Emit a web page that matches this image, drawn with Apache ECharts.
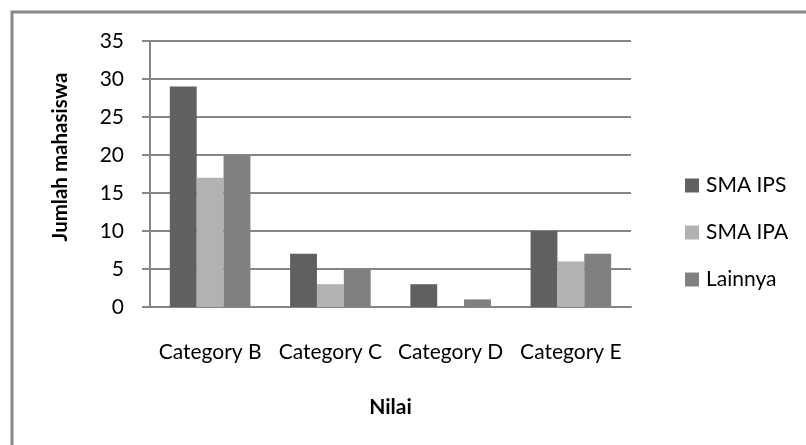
<!DOCTYPE html>
<html>
<head>
<meta charset="utf-8">
<script src="https://cdn.jsdelivr.net/npm/echarts@6/dist/echarts.min.js"></script>
<style>
  html, body { margin: 0; padding: 0; background: #ffffff; }
  #chart { width: 806px; height: 445px; }
</style>
</head>
<body>
<div id="chart"></div>
<script>
// Categories and series values
var categories = ['Category B', 'Category C', 'Category D', 'Category E'];
var smaIps = [29, 7, 3, 10];
var smaIpa = [17, 3, 0, 6];
var lainnya = [20, 5, 1, 7];
var seriesNames = ['SMA IPS', 'SMA IPA', 'Lainnya'];
var yTicks = [0, 5, 10, 15, 20, 25, 30, 35];

var FONT = 'Lato, "Open Sans", sans-serif';
var GRID_COLOR = '#868686';

var chart = echarts.init(document.getElementById('chart'), null, { renderer: 'canvas' });

var option = {
  backgroundColor: '#ffffff',
  animation: false,
  color: ['#606060', '#b2b2b2', '#808080'],
  grid: { left: 150, right: 175, top: 41, bottom: 138, containLabel: false },
  legend: {
    orient: 'vertical',
    left: 680,
    top: 170,
    itemWidth: 14,
    itemHeight: 14,
    itemGap: 26,
    icon: 'rect',
    data: seriesNames,
    textStyle: { fontFamily: FONT, fontSize: 21, color: '#000000', padding: [0, 0, 0, 2] }
  },
  xAxis: {
    type: 'category',
    data: categories,
    name: 'Nilai',
    nameLocation: 'middle',
    nameGap: 90,
    nameTextStyle: { fontFamily: FONT, fontSize: 21, fontWeight: 'bold', color: '#000000' },
    axisLine: { lineStyle: { color: GRID_COLOR, width: 2 } },
    axisTick: { show: false },
    axisLabel: { fontFamily: FONT, fontSize: 21, color: '#000000', margin: 35, interval: 0 }
  },
  yAxis: {
    type: 'value',
    min: yTicks[0],
    max: yTicks[yTicks.length - 1],
    interval: 5,
    axisLine: { show: true, lineStyle: { color: GRID_COLOR, width: 2 } },
    axisTick: { show: true, length: 8, lineStyle: { color: GRID_COLOR, width: 2 } },
    splitLine: { show: true, lineStyle: { color: GRID_COLOR, width: 2 } },
    axisLabel: { fontFamily: FONT, fontSize: 21, color: '#000000', margin: 26 }
  },
  graphic: [
    {
      type: 'rect',
      shape: { x: 12, y: 12, width: 820, height: 460 },
      style: { fill: 'none', stroke: '#888888', lineWidth: 3 },
      silent: true
    },
    {
      type: 'text',
      x: 60,
      y: 157,
      rotation: Math.PI / 2,
      style: {
        text: 'Jumlah mahasiswa',
        fontFamily: FONT,
        fontSize: 20.5,
        fontWeight: 'bold',
        fill: '#000000',
        align: 'center',
        verticalAlign: 'middle'
      }
    }
  ],
  series: [
    { name: seriesNames[0], type: 'bar', data: smaIps, barGap: '0%', barCategoryGap: '33%' },
    { name: seriesNames[1], type: 'bar', data: smaIpa, barGap: '0%', barCategoryGap: '33%' },
    { name: seriesNames[2], type: 'bar', data: lainnya, barGap: '0%', barCategoryGap: '33%' }
  ]
};

chart.setOption(option);
</script>
</body>
</html>
